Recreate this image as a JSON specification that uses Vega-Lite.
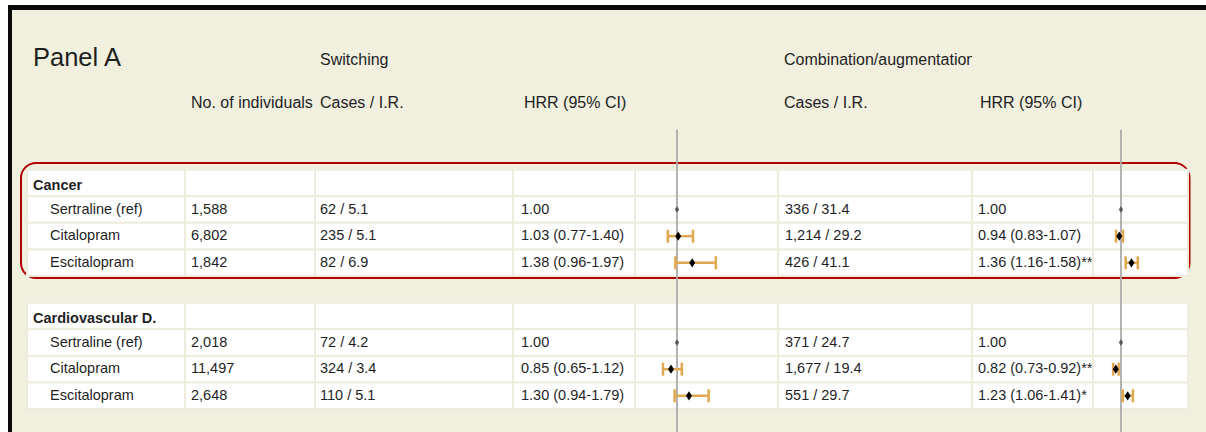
{
  "$schema": "https://vega.github.io/schema/vega-lite/v6.json",
  "background": "#F1F0DF",
  "padding": 0,
  "spacing": 0,
  "bounds": "flush",
  "config": {
    "view": {"stroke": null},
    "text": {"font": "Liberation Sans, Arial, sans-serif", "fontSize": 14.5, "color": "#1f1f1f"},
    "concat": {"spacing": 0}
  },
  "datasets": {
    "tablerows": [
      {"row": "Cancer"}, {"row": "C-S"}, {"row": "C-C"}, {"row": "C-E"},
      {"row": "CVD"}, {"row": "V-S"}, {"row": "V-C"}, {"row": "V-E"}
    ],
    "cells": [
      {"row": "title", "col": "label", "kind": "title", "text": "Panel A"},
      {"row": "title", "col": "cases1", "kind": "title", "text": "Switching"},
      {"row": "title", "col": "cases2", "kind": "title", "text": "Combination/augmentation"},
      {"row": "sub", "col": "n", "kind": "header", "text": "No. of individuals"},
      {"row": "sub", "col": "cases1", "kind": "header", "text": "Cases / I.R."},
      {"row": "sub", "col": "hrr1", "kind": "header", "text": "HRR (95% CI)"},
      {"row": "sub", "col": "cases2", "kind": "header", "text": "Cases / I.R."},
      {"row": "sub", "col": "hrr2", "kind": "header", "text": "HRR (95% CI)"},
      {"row": "Cancer", "col": "label", "kind": "group", "text": "Cancer"},
      {"row": "C-S", "col": "label", "kind": "drug", "text": "Sertraline (ref)"},
      {"row": "C-C", "col": "label", "kind": "drug", "text": "Citalopram"},
      {"row": "C-E", "col": "label", "kind": "drug", "text": "Escitalopram"},
      {"row": "CVD", "col": "label", "kind": "group", "text": "Cardiovascular D."},
      {"row": "V-S", "col": "label", "kind": "drug", "text": "Sertraline (ref)"},
      {"row": "V-C", "col": "label", "kind": "drug", "text": "Citalopram"},
      {"row": "V-E", "col": "label", "kind": "drug", "text": "Escitalopram"},
      {"row": "C-S", "col": "n", "kind": "value", "text": "1,588"},
      {"row": "C-C", "col": "n", "kind": "value", "text": "6,802"},
      {"row": "C-E", "col": "n", "kind": "value", "text": "1,842"},
      {"row": "V-S", "col": "n", "kind": "value", "text": "2,018"},
      {"row": "V-C", "col": "n", "kind": "value", "text": "11,497"},
      {"row": "V-E", "col": "n", "kind": "value", "text": "2,648"},
      {"row": "C-S", "col": "cases1", "kind": "value", "text": "62 / 5.1"},
      {"row": "C-C", "col": "cases1", "kind": "value", "text": "235 / 5.1"},
      {"row": "C-E", "col": "cases1", "kind": "value", "text": "82 / 6.9"},
      {"row": "V-S", "col": "cases1", "kind": "value", "text": "72 / 4.2"},
      {"row": "V-C", "col": "cases1", "kind": "value", "text": "324 / 3.4"},
      {"row": "V-E", "col": "cases1", "kind": "value", "text": "110 / 5.1"},
      {"row": "C-S", "col": "hrr1", "kind": "value", "text": "1.00"},
      {"row": "C-C", "col": "hrr1", "kind": "value", "text": "1.03 (0.77-1.40)"},
      {"row": "C-E", "col": "hrr1", "kind": "value", "text": "1.38 (0.96-1.97)"},
      {"row": "V-S", "col": "hrr1", "kind": "value", "text": "1.00"},
      {"row": "V-C", "col": "hrr1", "kind": "value", "text": "0.85 (0.65-1.12)"},
      {"row": "V-E", "col": "hrr1", "kind": "value", "text": "1.30 (0.94-1.79)"},
      {"row": "C-S", "col": "cases2", "kind": "value", "text": "336 / 31.4"},
      {"row": "C-C", "col": "cases2", "kind": "value", "text": "1,214 / 29.2"},
      {"row": "C-E", "col": "cases2", "kind": "value", "text": "426 / 41.1"},
      {"row": "V-S", "col": "cases2", "kind": "value", "text": "371 / 24.7"},
      {"row": "V-C", "col": "cases2", "kind": "value", "text": "1,677 / 19.4"},
      {"row": "V-E", "col": "cases2", "kind": "value", "text": "551 / 29.7"},
      {"row": "C-S", "col": "hrr2", "kind": "value", "text": "1.00"},
      {"row": "C-C", "col": "hrr2", "kind": "value", "text": "0.94 (0.83-1.07)"},
      {"row": "C-E", "col": "hrr2", "kind": "value", "text": "1.36 (1.16-1.58)**"},
      {"row": "V-S", "col": "hrr2", "kind": "value", "text": "1.00"},
      {"row": "V-C", "col": "hrr2", "kind": "value", "text": "0.82 (0.73-0.92)**"},
      {"row": "V-E", "col": "hrr2", "kind": "value", "text": "1.23 (1.06-1.41)*"}
    ],
    "hrr": [
      {"row": "C-S", "analysis": "Switching", "est": 1.0},
      {"row": "C-C", "analysis": "Switching", "est": 1.03, "lo": 0.77, "hi": 1.40},
      {"row": "C-E", "analysis": "Switching", "est": 1.38, "lo": 0.96, "hi": 1.97},
      {"row": "V-S", "analysis": "Switching", "est": 1.0},
      {"row": "V-C", "analysis": "Switching", "est": 0.85, "lo": 0.65, "hi": 1.12},
      {"row": "V-E", "analysis": "Switching", "est": 1.30, "lo": 0.94, "hi": 1.79},
      {"row": "C-S", "analysis": "Combination", "est": 1.0},
      {"row": "C-C", "analysis": "Combination", "est": 0.94, "lo": 0.83, "hi": 1.07},
      {"row": "C-E", "analysis": "Combination", "est": 1.36, "lo": 1.16, "hi": 1.58},
      {"row": "V-S", "analysis": "Combination", "est": 1.0},
      {"row": "V-C", "analysis": "Combination", "est": 0.82, "lo": 0.73, "hi": 0.92},
      {"row": "V-E", "analysis": "Combination", "est": 1.23, "lo": 1.06, "hi": 1.41}
    ]
  },
  "vconcat": [
    {"width": 1206, "height": 5, "view": {"fill": "#FFFFFF"}, "data": {"values": [{}]}, "mark": {"type": "rect", "opacity": 0}, "encoding": {}},
    {"spacing": 0, "bounds": "flush", "hconcat": [
      {"width": 8, "height": 427, "view": {"fill": "#FFFFFF"}, "data": {"values": [{}]}, "mark": {"type": "rect", "opacity": 0}, "encoding": {}},
      {"spacing": 0, "bounds": "flush", "vconcat": [
        {"width": 1198, "height": 5, "view": {"fill": "#0A0A0A"}, "data": {"values": [{}]}, "mark": {"type": "rect", "opacity": 0}, "encoding": {}},
        {"spacing": 0, "bounds": "flush", "hconcat": [
          {"width": 4, "height": 422, "view": {"fill": "#0A0A0A"}, "data": {"values": [{}]}, "mark": {"type": "rect", "opacity": 0}, "encoding": {}},
          {"width": 15, "height": 422, "data": {"values": [{}]}, "mark": {"type": "rect", "opacity": 0}, "encoding": {}},
          {"width": 158, "height": 422, "layer": [
            {"data": {"values": [{}]}, "mark": {"type": "rect", "filled": false, "color": "#B30000", "strokeWidth": 2, "cornerRadius": 15, "xOffset": -6, "x2Offset": 1004.5},
             "encoding": {"x": {"datum": "label", "type": "nominal", "bandPosition": 0, "scale": {"type": "band", "paddingInner": 0, "paddingOuter": 0, "round": false}, "axis": null},
                          "x2": {"datum": "label", "bandPosition": 1},
                          "y": {"datum": "s3", "type": "nominal", "bandPosition": 0.75, "scale": {"type": "band", "domain": ["top","title","t2","sub","s2","s3","Cancer","C-S","C-C","C-E","gap","CVD","V-S","V-C","V-E"], "paddingInner": 0, "paddingOuter": 0.43, "align": 0, "round": false}, "axis": null},
                          "y2": {"datum": "gap", "bandPosition": 0.07}}},
            {"data": {"name": "tablerows"}, "mark": {"type": "rect", "fill": "#FFFFFF", "stroke": "#EEEDDD", "strokeWidth": 2},
             "encoding": {"y": {"field": "row", "type": "nominal", "scale": {"type": "band", "domain": ["top","title","t2","sub","s2","s3","Cancer","C-S","C-C","C-E","gap","CVD","V-S","V-C","V-E"], "paddingInner": 0, "paddingOuter": 0.43, "align": 0, "round": false}, "axis": null}}},
            {"data": {"name": "cells"}, "transform": [{"filter": "datum.col == 'label' && datum.kind == 'group'"}],
             "mark": {"type": "text", "align": "left", "dx": 6, "dy": 3, "fontWeight": "bold"},
             "encoding": {"x": {"field": "col", "type": "nominal", "bandPosition": 0, "scale": {"type": "band", "paddingInner": 0, "paddingOuter": 0, "round": false}, "axis": null},
                          "y": {"field": "row", "type": "nominal", "scale": {"type": "band", "domain": ["top","title","t2","sub","s2","s3","Cancer","C-S","C-C","C-E","gap","CVD","V-S","V-C","V-E"], "paddingInner": 0, "paddingOuter": 0.43, "align": 0, "round": false}, "axis": null},
                          "text": {"field": "text"}}},
            {"data": {"name": "cells"}, "transform": [{"filter": "datum.col == 'label' && datum.kind == 'drug'"}],
             "mark": {"type": "text", "align": "left", "dx": 23},
             "encoding": {"x": {"field": "col", "type": "nominal", "bandPosition": 0, "scale": {"type": "band", "paddingInner": 0, "paddingOuter": 0, "round": false}, "axis": null},
                          "y": {"field": "row", "type": "nominal", "scale": {"type": "band", "domain": ["top","title","t2","sub","s2","s3","Cancer","C-S","C-C","C-E","gap","CVD","V-S","V-C","V-E"], "paddingInner": 0, "paddingOuter": 0.43, "align": 0, "round": false}, "axis": null},
                          "text": {"field": "text"}}},
            {"data": {"name": "cells"}, "transform": [{"filter": "datum.col == 'label' && datum.kind == 'title'"}],
             "mark": {"type": "text", "align": "left", "dx": 6, "dy": 8, "fontSize": 25.5},
             "encoding": {"x": {"field": "col", "type": "nominal", "bandPosition": 0, "scale": {"type": "band", "paddingInner": 0, "paddingOuter": 0, "round": false}, "axis": null},
                          "y": {"field": "row", "type": "nominal", "scale": {"type": "band", "domain": ["top","title","t2","sub","s2","s3","Cancer","C-S","C-C","C-E","gap","CVD","V-S","V-C","V-E"], "paddingInner": 0, "paddingOuter": 0.43, "align": 0, "round": false}, "axis": null},
                          "text": {"field": "text"}}}
          ]},
          {"width": 130, "height": 422, "layer": [
            {"data": {"name": "tablerows"}, "mark": {"type": "rect", "fill": "#FFFFFF", "stroke": "#EEEDDD", "strokeWidth": 2},
             "encoding": {"y": {"field": "row", "type": "nominal", "scale": {"type": "band", "domain": ["top","title","t2","sub","s2","s3","Cancer","C-S","C-C","C-E","gap","CVD","V-S","V-C","V-E"], "paddingInner": 0, "paddingOuter": 0.43, "align": 0, "round": false}, "axis": null}}},
            {"data": {"name": "cells"}, "transform": [{"filter": "datum.col == 'n' && datum.kind == 'value'"}],
             "mark": {"type": "text", "align": "left", "dx": 6},
             "encoding": {"x": {"field": "col", "type": "nominal", "bandPosition": 0, "scale": {"type": "band", "paddingInner": 0, "paddingOuter": 0, "round": false}, "axis": null},
                          "y": {"field": "row", "type": "nominal", "scale": {"type": "band", "domain": ["top","title","t2","sub","s2","s3","Cancer","C-S","C-C","C-E","gap","CVD","V-S","V-C","V-E"], "paddingInner": 0, "paddingOuter": 0.43, "align": 0, "round": false}, "axis": null},
                          "text": {"field": "text"}}},
            {"data": {"name": "cells"}, "transform": [{"filter": "datum.col == 'n' && datum.kind == 'header'"}],
             "mark": {"type": "text", "align": "left", "dx": 6, "fontSize": 16},
             "encoding": {"x": {"field": "col", "type": "nominal", "bandPosition": 0, "scale": {"type": "band", "paddingInner": 0, "paddingOuter": 0, "round": false}, "axis": null},
                          "y": {"field": "row", "type": "nominal", "scale": {"type": "band", "domain": ["top","title","t2","sub","s2","s3","Cancer","C-S","C-C","C-E","gap","CVD","V-S","V-C","V-E"], "paddingInner": 0, "paddingOuter": 0.43, "align": 0, "round": false}, "axis": null},
                          "text": {"field": "text"}}}
          ]},
          {"width": 198, "height": 422, "layer": [
            {"data": {"name": "tablerows"}, "mark": {"type": "rect", "fill": "#FFFFFF", "stroke": "#EEEDDD", "strokeWidth": 2},
             "encoding": {"y": {"field": "row", "type": "nominal", "scale": {"type": "band", "domain": ["top","title","t2","sub","s2","s3","Cancer","C-S","C-C","C-E","gap","CVD","V-S","V-C","V-E"], "paddingInner": 0, "paddingOuter": 0.43, "align": 0, "round": false}, "axis": null}}},
            {"data": {"name": "cells"}, "transform": [{"filter": "datum.col == 'cases1' && datum.kind == 'value'"}],
             "mark": {"type": "text", "align": "left", "dx": 5},
             "encoding": {"x": {"field": "col", "type": "nominal", "bandPosition": 0, "scale": {"type": "band", "paddingInner": 0, "paddingOuter": 0, "round": false}, "axis": null},
                          "y": {"field": "row", "type": "nominal", "scale": {"type": "band", "domain": ["top","title","t2","sub","s2","s3","Cancer","C-S","C-C","C-E","gap","CVD","V-S","V-C","V-E"], "paddingInner": 0, "paddingOuter": 0.43, "align": 0, "round": false}, "axis": null},
                          "text": {"field": "text"}}},
            {"data": {"name": "cells"}, "transform": [{"filter": "datum.col == 'cases1' && datum.kind == 'header'"}],
             "mark": {"type": "text", "align": "left", "dx": 5, "fontSize": 16},
             "encoding": {"x": {"field": "col", "type": "nominal", "bandPosition": 0, "scale": {"type": "band", "paddingInner": 0, "paddingOuter": 0, "round": false}, "axis": null},
                          "y": {"field": "row", "type": "nominal", "scale": {"type": "band", "domain": ["top","title","t2","sub","s2","s3","Cancer","C-S","C-C","C-E","gap","CVD","V-S","V-C","V-E"], "paddingInner": 0, "paddingOuter": 0.43, "align": 0, "round": false}, "axis": null},
                          "text": {"field": "text"}}},
            {"data": {"name": "cells"}, "transform": [{"filter": "datum.col == 'cases1' && datum.kind == 'title'"}],
             "mark": {"type": "text", "align": "left", "dx": 5, "dy": 10, "fontSize": 16},
             "encoding": {"x": {"field": "col", "type": "nominal", "bandPosition": 0, "scale": {"type": "band", "paddingInner": 0, "paddingOuter": 0, "round": false}, "axis": null},
                          "y": {"field": "row", "type": "nominal", "scale": {"type": "band", "domain": ["top","title","t2","sub","s2","s3","Cancer","C-S","C-C","C-E","gap","CVD","V-S","V-C","V-E"], "paddingInner": 0, "paddingOuter": 0.43, "align": 0, "round": false}, "axis": null},
                          "text": {"field": "text"}}}
          ]},
          {"width": 122, "height": 422, "layer": [
            {"data": {"name": "tablerows"}, "mark": {"type": "rect", "fill": "#FFFFFF", "stroke": "#EEEDDD", "strokeWidth": 2},
             "encoding": {"y": {"field": "row", "type": "nominal", "scale": {"type": "band", "domain": ["top","title","t2","sub","s2","s3","Cancer","C-S","C-C","C-E","gap","CVD","V-S","V-C","V-E"], "paddingInner": 0, "paddingOuter": 0.43, "align": 0, "round": false}, "axis": null}}},
            {"data": {"name": "cells"}, "transform": [{"filter": "datum.col == 'hrr1' && datum.kind == 'value'"}],
             "mark": {"type": "text", "align": "left", "dx": 8},
             "encoding": {"x": {"field": "col", "type": "nominal", "bandPosition": 0, "scale": {"type": "band", "paddingInner": 0, "paddingOuter": 0, "round": false}, "axis": null},
                          "y": {"field": "row", "type": "nominal", "scale": {"type": "band", "domain": ["top","title","t2","sub","s2","s3","Cancer","C-S","C-C","C-E","gap","CVD","V-S","V-C","V-E"], "paddingInner": 0, "paddingOuter": 0.43, "align": 0, "round": false}, "axis": null},
                          "text": {"field": "text"}}},
            {"data": {"name": "cells"}, "transform": [{"filter": "datum.col == 'hrr1' && datum.kind == 'header'"}],
             "mark": {"type": "text", "align": "left", "dx": 11, "fontSize": 16},
             "encoding": {"x": {"field": "col", "type": "nominal", "bandPosition": 0, "scale": {"type": "band", "paddingInner": 0, "paddingOuter": 0, "round": false}, "axis": null},
                          "y": {"field": "row", "type": "nominal", "scale": {"type": "band", "domain": ["top","title","t2","sub","s2","s3","Cancer","C-S","C-C","C-E","gap","CVD","V-S","V-C","V-E"], "paddingInner": 0, "paddingOuter": 0.43, "align": 0, "round": false}, "axis": null},
                          "text": {"field": "text"}}}
          ]},
          {"width": 143, "height": 422, "layer": [
            {"data": {"name": "tablerows"}, "mark": {"type": "rect", "fill": "#FFFFFF", "stroke": "#EEEDDD", "strokeWidth": 2},
             "encoding": {"y": {"field": "row", "type": "nominal", "scale": {"type": "band", "domain": ["top","title","t2","sub","s2","s3","Cancer","C-S","C-C","C-E","gap","CVD","V-S","V-C","V-E"], "paddingInner": 0, "paddingOuter": 0.43, "align": 0, "round": false}, "axis": null}}},
            {"data": {"values": [{}]}, "mark": {"type": "rule", "color": "#ABABAB", "strokeWidth": 1.8},
             "encoding": {"x": {"datum": 1, "type": "quantitative", "scale": {"domain": [-0.05, 3.525], "zero": false, "nice": false}, "axis": null},
                          "y": {"datum": "s2", "type": "nominal", "scale": {"type": "band", "domain": ["top","title","t2","sub","s2","s3","Cancer","C-S","C-C","C-E","gap","CVD","V-S","V-C","V-E"], "paddingInner": 0, "paddingOuter": 0.43, "align": 0, "round": false}, "axis": null},
                          "y2": {"value": "height"}}},
            {"data": {"name": "hrr"}, "transform": [{"filter": "datum.analysis == 'Switching' && isValid(datum.lo)"}],
             "mark": {"type": "rule", "color": "#E0A84F", "strokeWidth": 2.5},
             "encoding": {"x": {"field": "lo", "type": "quantitative", "scale": {"domain": [-0.05, 3.525], "zero": false, "nice": false}, "axis": null},
                          "x2": {"field": "hi"},
                          "y": {"field": "row", "type": "nominal", "scale": {"type": "band", "domain": ["top","title","t2","sub","s2","s3","Cancer","C-S","C-C","C-E","gap","CVD","V-S","V-C","V-E"], "paddingInner": 0, "paddingOuter": 0.43, "align": 0, "round": false}, "axis": null}}},
            {"data": {"name": "hrr"}, "transform": [{"filter": "datum.analysis == 'Switching' && isValid(datum.lo)"}],
             "mark": {"type": "tick", "color": "#E0A84F", "thickness": 2.5, "size": 13, "opacity": 1},
             "encoding": {"x": {"field": "lo", "type": "quantitative", "scale": {"domain": [-0.05, 3.525], "zero": false, "nice": false}, "axis": null},
                          "y": {"field": "row", "type": "nominal", "scale": {"type": "band", "domain": ["top","title","t2","sub","s2","s3","Cancer","C-S","C-C","C-E","gap","CVD","V-S","V-C","V-E"], "paddingInner": 0, "paddingOuter": 0.43, "align": 0, "round": false}, "axis": null}}},
            {"data": {"name": "hrr"}, "transform": [{"filter": "datum.analysis == 'Switching' && isValid(datum.lo)"}],
             "mark": {"type": "tick", "color": "#E0A84F", "thickness": 2.5, "size": 13, "opacity": 1},
             "encoding": {"x": {"field": "hi", "type": "quantitative", "scale": {"domain": [-0.05, 3.525], "zero": false, "nice": false}, "axis": null},
                          "y": {"field": "row", "type": "nominal", "scale": {"type": "band", "domain": ["top","title","t2","sub","s2","s3","Cancer","C-S","C-C","C-E","gap","CVD","V-S","V-C","V-E"], "paddingInner": 0, "paddingOuter": 0.43, "align": 0, "round": false}, "axis": null}}},
            {"data": {"name": "hrr"}, "transform": [{"filter": "datum.analysis == 'Switching' && isValid(datum.lo)"}],
             "mark": {"type": "point", "shape": "M0,-1L0.65,0L0,1L-0.65,0Z", "filled": true, "color": "#000000", "size": 85, "opacity": 1},
             "encoding": {"x": {"field": "est", "type": "quantitative", "scale": {"domain": [-0.05, 3.525], "zero": false, "nice": false}, "axis": null},
                          "y": {"field": "row", "type": "nominal", "scale": {"type": "band", "domain": ["top","title","t2","sub","s2","s3","Cancer","C-S","C-C","C-E","gap","CVD","V-S","V-C","V-E"], "paddingInner": 0, "paddingOuter": 0.43, "align": 0, "round": false}, "axis": null}}},
            {"data": {"name": "hrr"}, "transform": [{"filter": "datum.analysis == 'Switching' && !isValid(datum.lo)"}],
             "mark": {"type": "point", "shape": "M0,-1L0.65,0L0,1L-0.65,0Z", "filled": true, "color": "#555555", "size": 42, "opacity": 1},
             "encoding": {"x": {"field": "est", "type": "quantitative", "scale": {"domain": [-0.05, 3.525], "zero": false, "nice": false}, "axis": null},
                          "y": {"field": "row", "type": "nominal", "scale": {"type": "band", "domain": ["top","title","t2","sub","s2","s3","Cancer","C-S","C-C","C-E","gap","CVD","V-S","V-C","V-E"], "paddingInner": 0, "paddingOuter": 0.43, "align": 0, "round": false}, "axis": null}}}
          ]},
          {"width": 194, "height": 422, "layer": [
            {"data": {"name": "tablerows"}, "mark": {"type": "rect", "fill": "#FFFFFF", "stroke": "#EEEDDD", "strokeWidth": 2},
             "encoding": {"y": {"field": "row", "type": "nominal", "scale": {"type": "band", "domain": ["top","title","t2","sub","s2","s3","Cancer","C-S","C-C","C-E","gap","CVD","V-S","V-C","V-E"], "paddingInner": 0, "paddingOuter": 0.43, "align": 0, "round": false}, "axis": null}}},
            {"data": {"name": "cells"}, "transform": [{"filter": "datum.col == 'cases2' && datum.kind == 'value'"}],
             "mark": {"type": "text", "align": "left", "dx": 7},
             "encoding": {"x": {"field": "col", "type": "nominal", "bandPosition": 0, "scale": {"type": "band", "paddingInner": 0, "paddingOuter": 0, "round": false}, "axis": null},
                          "y": {"field": "row", "type": "nominal", "scale": {"type": "band", "domain": ["top","title","t2","sub","s2","s3","Cancer","C-S","C-C","C-E","gap","CVD","V-S","V-C","V-E"], "paddingInner": 0, "paddingOuter": 0.43, "align": 0, "round": false}, "axis": null},
                          "text": {"field": "text"}}},
            {"data": {"name": "cells"}, "transform": [{"filter": "datum.col == 'cases2' && datum.kind == 'header'"}],
             "mark": {"type": "text", "align": "left", "dx": 6, "fontSize": 16},
             "encoding": {"x": {"field": "col", "type": "nominal", "bandPosition": 0, "scale": {"type": "band", "paddingInner": 0, "paddingOuter": 0, "round": false}, "axis": null},
                          "y": {"field": "row", "type": "nominal", "scale": {"type": "band", "domain": ["top","title","t2","sub","s2","s3","Cancer","C-S","C-C","C-E","gap","CVD","V-S","V-C","V-E"], "paddingInner": 0, "paddingOuter": 0.43, "align": 0, "round": false}, "axis": null},
                          "text": {"field": "text"}}},
            {"data": {"name": "cells"}, "transform": [{"filter": "datum.col == 'cases2' && datum.kind == 'title'"}],
             "mark": {"type": "text", "align": "left", "dx": 6, "dy": 10, "fontSize": 16, "clip": true},
             "encoding": {"x": {"field": "col", "type": "nominal", "bandPosition": 0, "scale": {"type": "band", "paddingInner": 0, "paddingOuter": 0, "round": false}, "axis": null},
                          "y": {"field": "row", "type": "nominal", "scale": {"type": "band", "domain": ["top","title","t2","sub","s2","s3","Cancer","C-S","C-C","C-E","gap","CVD","V-S","V-C","V-E"], "paddingInner": 0, "paddingOuter": 0.43, "align": 0, "round": false}, "axis": null},
                          "text": {"field": "text"}}}
          ]},
          {"width": 121, "height": 422, "layer": [
            {"data": {"name": "tablerows"}, "mark": {"type": "rect", "fill": "#FFFFFF", "stroke": "#EEEDDD", "strokeWidth": 2},
             "encoding": {"y": {"field": "row", "type": "nominal", "scale": {"type": "band", "domain": ["top","title","t2","sub","s2","s3","Cancer","C-S","C-C","C-E","gap","CVD","V-S","V-C","V-E"], "paddingInner": 0, "paddingOuter": 0.43, "align": 0, "round": false}, "axis": null}}},
            {"data": {"name": "cells"}, "transform": [{"filter": "datum.col == 'hrr2' && datum.kind == 'value'"}],
             "mark": {"type": "text", "align": "left", "dx": 6},
             "encoding": {"x": {"field": "col", "type": "nominal", "bandPosition": 0, "scale": {"type": "band", "paddingInner": 0, "paddingOuter": 0, "round": false}, "axis": null},
                          "y": {"field": "row", "type": "nominal", "scale": {"type": "band", "domain": ["top","title","t2","sub","s2","s3","Cancer","C-S","C-C","C-E","gap","CVD","V-S","V-C","V-E"], "paddingInner": 0, "paddingOuter": 0.43, "align": 0, "round": false}, "axis": null},
                          "text": {"field": "text"}}},
            {"data": {"name": "cells"}, "transform": [{"filter": "datum.col == 'hrr2' && datum.kind == 'header'"}],
             "mark": {"type": "text", "align": "left", "dx": 8, "fontSize": 16},
             "encoding": {"x": {"field": "col", "type": "nominal", "bandPosition": 0, "scale": {"type": "band", "paddingInner": 0, "paddingOuter": 0, "round": false}, "axis": null},
                          "y": {"field": "row", "type": "nominal", "scale": {"type": "band", "domain": ["top","title","t2","sub","s2","s3","Cancer","C-S","C-C","C-E","gap","CVD","V-S","V-C","V-E"], "paddingInner": 0, "paddingOuter": 0.43, "align": 0, "round": false}, "axis": null},
                          "text": {"field": "text"}}}
          ]},
          {"width": 95, "height": 422, "layer": [
            {"data": {"name": "tablerows"}, "mark": {"type": "rect", "fill": "#FFFFFF", "stroke": "#EEEDDD", "strokeWidth": 2},
             "encoding": {"y": {"field": "row", "type": "nominal", "scale": {"type": "band", "domain": ["top","title","t2","sub","s2","s3","Cancer","C-S","C-C","C-E","gap","CVD","V-S","V-C","V-E"], "paddingInner": 0, "paddingOuter": 0.43, "align": 0, "round": false}, "axis": null}}},
            {"data": {"values": [{}]}, "mark": {"type": "rule", "color": "#ABABAB", "strokeWidth": 1.8},
             "encoding": {"x": {"datum": 1, "type": "quantitative", "scale": {"domain": [0.0345, 3.31], "zero": false, "nice": false}, "axis": null},
                          "y": {"datum": "s2", "type": "nominal", "scale": {"type": "band", "domain": ["top","title","t2","sub","s2","s3","Cancer","C-S","C-C","C-E","gap","CVD","V-S","V-C","V-E"], "paddingInner": 0, "paddingOuter": 0.43, "align": 0, "round": false}, "axis": null},
                          "y2": {"value": "height"}}},
            {"data": {"name": "hrr"}, "transform": [{"filter": "datum.analysis == 'Combination' && isValid(datum.lo)"}],
             "mark": {"type": "rule", "color": "#E0A84F", "strokeWidth": 2.5},
             "encoding": {"x": {"field": "lo", "type": "quantitative", "scale": {"domain": [0.0345, 3.31], "zero": false, "nice": false}, "axis": null},
                          "x2": {"field": "hi"},
                          "y": {"field": "row", "type": "nominal", "scale": {"type": "band", "domain": ["top","title","t2","sub","s2","s3","Cancer","C-S","C-C","C-E","gap","CVD","V-S","V-C","V-E"], "paddingInner": 0, "paddingOuter": 0.43, "align": 0, "round": false}, "axis": null}}},
            {"data": {"name": "hrr"}, "transform": [{"filter": "datum.analysis == 'Combination' && isValid(datum.lo)"}],
             "mark": {"type": "tick", "color": "#E0A84F", "thickness": 2.5, "size": 13, "opacity": 1},
             "encoding": {"x": {"field": "lo", "type": "quantitative", "scale": {"domain": [0.0345, 3.31], "zero": false, "nice": false}, "axis": null},
                          "y": {"field": "row", "type": "nominal", "scale": {"type": "band", "domain": ["top","title","t2","sub","s2","s3","Cancer","C-S","C-C","C-E","gap","CVD","V-S","V-C","V-E"], "paddingInner": 0, "paddingOuter": 0.43, "align": 0, "round": false}, "axis": null}}},
            {"data": {"name": "hrr"}, "transform": [{"filter": "datum.analysis == 'Combination' && isValid(datum.lo)"}],
             "mark": {"type": "tick", "color": "#E0A84F", "thickness": 2.5, "size": 13, "opacity": 1},
             "encoding": {"x": {"field": "hi", "type": "quantitative", "scale": {"domain": [0.0345, 3.31], "zero": false, "nice": false}, "axis": null},
                          "y": {"field": "row", "type": "nominal", "scale": {"type": "band", "domain": ["top","title","t2","sub","s2","s3","Cancer","C-S","C-C","C-E","gap","CVD","V-S","V-C","V-E"], "paddingInner": 0, "paddingOuter": 0.43, "align": 0, "round": false}, "axis": null}}},
            {"data": {"name": "hrr"}, "transform": [{"filter": "datum.analysis == 'Combination' && isValid(datum.lo)"}],
             "mark": {"type": "point", "shape": "M0,-1L0.65,0L0,1L-0.65,0Z", "filled": true, "color": "#000000", "size": 85, "opacity": 1},
             "encoding": {"x": {"field": "est", "type": "quantitative", "scale": {"domain": [0.0345, 3.31], "zero": false, "nice": false}, "axis": null},
                          "y": {"field": "row", "type": "nominal", "scale": {"type": "band", "domain": ["top","title","t2","sub","s2","s3","Cancer","C-S","C-C","C-E","gap","CVD","V-S","V-C","V-E"], "paddingInner": 0, "paddingOuter": 0.43, "align": 0, "round": false}, "axis": null}}},
            {"data": {"name": "hrr"}, "transform": [{"filter": "datum.analysis == 'Combination' && !isValid(datum.lo)"}],
             "mark": {"type": "point", "shape": "M0,-1L0.65,0L0,1L-0.65,0Z", "filled": true, "color": "#555555", "size": 42, "opacity": 1},
             "encoding": {"x": {"field": "est", "type": "quantitative", "scale": {"domain": [0.0345, 3.31], "zero": false, "nice": false}, "axis": null},
                          "y": {"field": "row", "type": "nominal", "scale": {"type": "band", "domain": ["top","title","t2","sub","s2","s3","Cancer","C-S","C-C","C-E","gap","CVD","V-S","V-C","V-E"], "paddingInner": 0, "paddingOuter": 0.43, "align": 0, "round": false}, "axis": null}}}
          ]}
        ]}
      ]}
    ]}
  ]
}
